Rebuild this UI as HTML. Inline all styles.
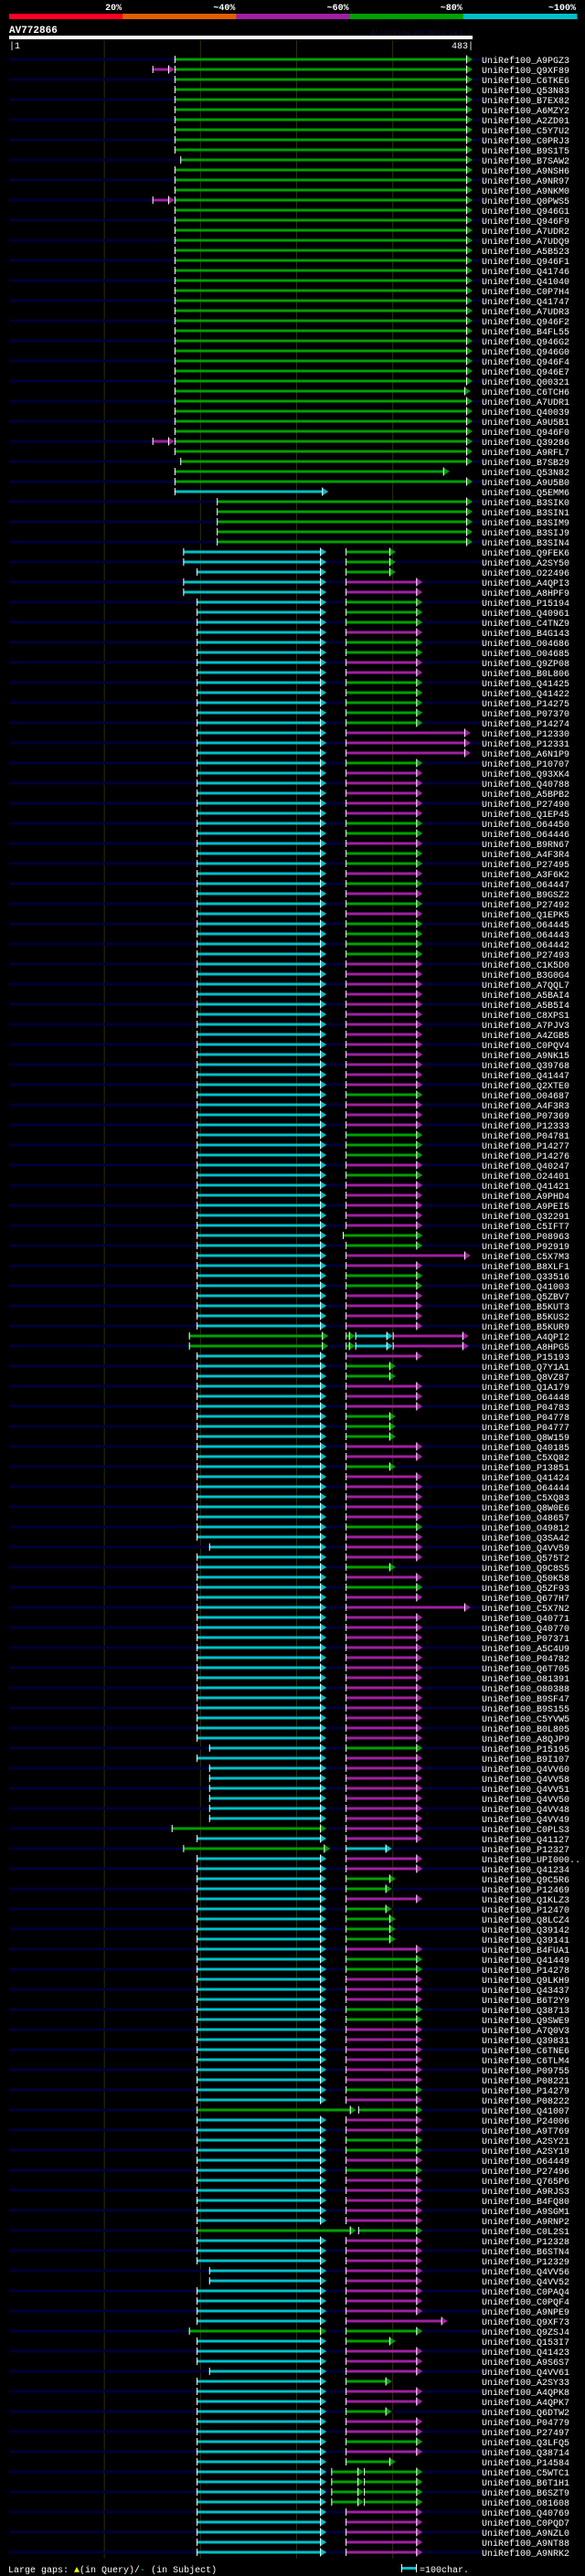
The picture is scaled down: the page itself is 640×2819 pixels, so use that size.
<!DOCTYPE html>
<html><head><meta charset="utf-8">
<style>
html,body{margin:0;padding:0;background:#000;}
body{width:640px;height:2819px;overflow:hidden;}
svg{display:block;}
text{font-family:"Liberation Mono",monospace;}
</style></head>
<body>
<svg id="chart" width="640" height="2819" xmlns="http://www.w3.org/2000/svg">
  <rect x="0" y="0" width="640" height="2819" fill="#000"/>
  <g id="legend"></g>
  <text x="10" y="36" fill="#fff" font-size="11" font-weight="bold">AV772866</text>
  <text x="516" y="38" fill="#0a0a40" font-size="8" text-anchor="end">AlignView.pm Beta rel.7</text>
  <rect x="10" y="39" width="507" height="4" fill="#fff"/>
  <text x="10" y="53" fill="#fff" font-size="10">|1</text>
  <text x="518" y="53" fill="#fff" font-size="10" text-anchor="end">483|</text>
  <g id="grid"></g>
  <g id="rows"></g>
  <text x="9" y="2815" fill="#fff" font-size="10">Large gaps:<tspan fill="#ff0"> ▲</tspan>(in Query)/<tspan fill="#0cc">-</tspan> (in Subject)</text>
  <rect x="439" y="2809" width="17" height="3" fill="#00c0c8"/>
  <rect x="439" y="2806" width="1" height="9" fill="#fff"/>
  <rect x="455" y="2806" width="1" height="9" fill="#fff"/>
  <text x="459" y="2815" fill="#fff" font-size="10">=100char.</text>
</svg>
<script>
const legendLabels=["20%","~40%","~60%","~80%","~100%"];
const legendColors=["#ff0022","#e06000","#a020a0","#00a000","#00c0c8"];
const gridTicks=[100,200,300,400];
const names=["A9PGZ3","Q9XF89","C6TKE6","Q53N83","B7EX82","A6MZY2","A2ZD01","C5Y7U2","C0PRJ3","B9S1T5",
"B7SAW2","A9NSH6","A9NR97","A9NKM0","Q0PWS5","Q946G1","Q946F9","A7UDR2","A7UDQ9","A5B523",
"Q946F1","Q41746","Q41040","C0P7H4","Q41747","A7UDR3","Q946F2","B4FL55","Q946G2","Q946G0",
"Q946F4","Q946E7","Q00321","C6TCH6","A7UDR1","Q40039","A9U5B1","Q946F0","Q39286","A9RFL7",
"B7SB29","Q53N82","A9U5B0","Q5EMM6","B3SIK0","B3SIN1","B3SIM9","B3SIJ9","B3SIN4","Q9FEK6",
"A2SY50","O22496","A4QPI3","A8HPF9","P15194","Q40961","C4TNZ9","B4G143","O04686","O04685",
"Q9ZP08","B0L806","Q41425","Q41422","P14275","P07370","P14274","P12330","P12331","A6N1P9",
"P10707","Q93XK4","Q40788","A5BPB2","P27490","Q1EP45","O64450","O64446","B9RN67","A4F3R4",
"P27495","A3F6K2","O64447","B9GSZ2","P27492","Q1EPK5","O64445","O64443","O64442","P27493",
"C1K5D0","B3G0G4","A7QQL7","A5BAI4","A5B5I4","C8XPS1","A7PJV3","A4ZGB5","C0PQV4","A9NK15",
"Q39768","Q41447","Q2XTE0","O04687","A4F3R3","P07369","P12333","P04781","P14277","P14276",
"Q40247","O24401","Q41421","A9PHD4","A9PEI5","Q32291","C5IFT7","P08963","P92919","C5X7M3",
"B8XLF1","Q33516","Q41003","Q5ZBV7","B5KUT3","B5KUS2","B5KUR9","A4QPI2","A8HPG5","P15193",
"Q7Y1A1","Q8VZ87","Q1A179","O64448","P04783","P04778","P04777","Q8W159","Q40185","C5XQ82",
"P13851","Q41424","O64444","C5XQ83","Q8W0E6","O48657","O49812","Q3SA42","Q4VV59","Q575T2",
"Q9C8S5","Q50K58","Q5ZF93","Q677H7","C5X7N2","Q40771","Q40770","P07371","A5C4U9","P04782",
"Q6T705","O81391","O80388","B9SF47","B9S155","C5YVW5","B0L805","A8QJP9","P15195","B9I107",
"Q4VV60","Q4VV58","Q4VV51","Q4VV50","Q4VV48","Q4VV49","C0PLS3","Q41127","P12327","UPI000..",
"Q41234","Q9C5R6","P12469","Q1KLZ3","P12470","Q8LCZ4","Q39142","Q39141","B4FUA1","Q41449",
"P14278","Q9LKH9","Q43437","B6T2Y9","Q38713","Q9SWE9","A7Q0V3","Q39831","C6TNE6","C6TLM4",
"P09755","P08221","P14279","P08222","Q41007","P24006","A9T769","A2SY21","A2SY19","O64449",
"P27496","Q765P6","A9RJS3","B4FQ80","A9SGM1","A9RNP2","C0L2S1","P12328","B6STN4","P12329",
"Q4VV56","Q4VV52","C0PAQ4","C0PQF4","A9NPE9","Q9XF73","Q9ZSJ4","Q153I7","Q41423","A9S6S7",
"Q4VV61","A2SY33","A4QPK8","A4QPK7","Q6DTW2","P04779","P27497","Q3LFQ5","Q38714","P14584",
"C5WTC1","B6T1H1","B6SZT9","O81608","Q40769","C0PQD7","A9NZL0","A9NT88","A9NRK2"];
const segments=[
"173-483g","150-173m,173-483g","173-483g","173-483g","173-483g","173-483g","173-483g","173-483g","173-483g","173-483g",
"179-483g","173-483g","173-483g","173-483g","150-173m,173-483g","173-483g","173-483g","173-483g","173-483g","173-483g",
"173-483g","173-483g","173-483g","173-483g","173-483g","173-483g","173-483g","173-483g","173-483g","173-483g",
"173-483g","173-483g","173-483g","173-481g","173-483g","173-483g","173-483g","173-483g","150-173m,173-483g","173-483g",
"179-483g","173-459g","173-483g","173-333c","217-483g","217-483g","217-483g","217-483g","217-483g","182-331c,351-403g",
"182-331c,351-403g","196-331c,351-403g","182-331c,351-431m","182-331c,351-431m","196-331c,351-431g","196-331c,351-431g","196-331c,351-431g","196-331c,351-431m","196-331c,351-431g","196-331c,351-431g",
"196-331c,351-431m","196-331c,351-431m","196-331c,351-431g","196-331c,351-431g","196-331c,351-431g","196-331c,351-431g","196-331c,351-431g","196-331c,351-481m","196-331c,351-481m","196-331c,351-481m",
"196-331c,351-431g","196-331c,351-431m","196-331c,351-431m","196-331c,351-431m","196-331c,351-431m","196-331c,351-431m","196-331c,351-431g","196-331c,351-431g","196-331c,351-431m","196-331c,351-431g",
"196-331c,351-431g","196-331c,351-431m","196-331c,351-431g","196-331c,351-431m","196-331c,351-431g","196-331c,351-431m","196-331c,351-431g","196-331c,351-431g","196-331c,351-431g","196-331c,351-431g",
"196-331c,351-431m","196-331c,351-431m","196-331c,351-431m","196-331c,351-431m","196-331c,351-431m","196-331c,351-431m","196-331c,351-431m","196-331c,351-431m","196-331c,351-431m","196-331c,351-431m",
"196-331c,351-431m","196-331c,351-431m","196-331c,351-431m","196-331c,351-431g","196-331c,351-431m","196-331c,351-431m","196-331c,351-431m","196-331c,351-431g","196-331c,351-431g","196-331c,351-431g",
"196-331c,351-431m","196-331c,351-431g","196-331c,351-431m","196-331c,351-431m","196-331c,351-431m","196-331c,351-431m","196-331c,351-431m","196-331c,348-431g","196-331c,351-431g","196-331c,351-481m",
"196-331c,351-431m","196-331c,351-431g","196-331c,351-431g","196-331c,351-431m","196-331c,351-431m","196-331c,351-431m","196-331c,351-431m","188-333g,351-361g,361-400c,400-479m","188-333g,351-361g,361-400c,400-479m","196-331c,351-431m",
"196-331c,351-403g","196-331c,351-403g","196-331c,351-431m","196-331c,351-431m","196-331c,351-431m","196-331c,351-403g","196-331c,351-403g","196-331c,351-403g","196-331c,351-431m","196-331c,351-431m",
"196-331c,351-403g","196-331c,351-431m","196-331c,351-431m","196-331c,351-431m","196-331c,351-431m","196-331c,351-431m","196-331c,351-431g","196-331c,351-431m","209-331c,351-431m","196-331c,351-431m",
"196-331c,351-403g","196-331c,351-431m","196-331c,351-431g","196-331c,351-431m","196-331c,351-481m","196-331c,351-431m","196-331c,351-431m","196-331c,351-431m","196-331c,351-431m","196-331c,351-431m",
"196-331c,351-431m","196-331c,351-431m","196-331c,351-431m","196-331c,351-431m","196-331c,351-431m","196-331c,351-431m","196-331c,351-431m","196-331c,351-431m","209-331c,351-431g","196-331c,351-431m",
"209-331c,351-431m","209-331c,351-431m","209-331c,351-431m","209-331c,351-431m","209-331c,351-431m","209-331c,351-431m","170-331g,351-431m","196-331c,351-431m","182-335g,351-399c","196-331c,351-431m",
"196-331c,351-431m","196-331c,351-403g","196-331c,351-399g","196-331c,351-431m","196-331c,351-399g","196-331c,351-403g","196-331c,351-403g","196-331c,351-403g","196-331c,351-431m","196-331c,351-431g",
"196-331c,351-431g","196-331c,351-431m","196-331c,351-431m","196-331c,351-431m","196-331c,351-431g","196-331c,351-431g","196-331c,351-431m","196-331c,351-431m","196-331c,351-431m","196-331c,351-431m",
"196-331c,351-431m","196-331c,351-431m","196-331c,351-431g","196-331c,351-431m","196-362g,364-431g","196-331c,351-431m","196-331c,351-431m","196-331c,351-431g","196-331c,351-431g","196-331c,351-431m",
"196-331c,351-431g","196-331c,351-431m","196-331c,351-431m","196-331c,351-431m","196-331c,351-431m","196-331c,351-431m","196-362g,364-431g","196-331c,351-431m","196-331c,351-431m","196-331c,351-431m",
"209-331c,351-431m","209-331c,351-431m","196-331c,351-431m","196-331c,351-431m","196-331c,351-431m","196-331c,351-457m","188-331g,351-431g","196-331c,351-403g","196-331c,351-431m","196-331c,351-431m",
"209-331c,351-431m","196-331c,351-399g","196-331c,351-431m","196-331c,351-431m","196-331c,351-399g","196-331c,351-431m","196-331c,351-431m","196-331c,351-431g","196-331c,351-431m","196-331c,351-403g",
"196-331c,336-370g,370-431g","196-331c,336-370g,370-431g","196-331c,336-370g,370-431g","196-331c,336-370g,370-431g","196-331c,351-431m","196-331c,351-431m","196-331c,351-431m","196-331c,351-431m","196-331c,351-431m"];

const NS="http://www.w3.org/2000/svg";
const X0=10,X1=517,R0=1,R1=483;
function xs(r){return X0+(r-R0)*(X1-X0)/(R1-R0);}
function rowY(i){return 65+i*11;}
const colorMap={g:"#00a000",m:"#a020a0",c:"#00c0c8"};
function mk(tag,attrs,parent){const e=document.createElementNS(NS,tag);for(const k in attrs)e.setAttribute(k,attrs[k]);parent.appendChild(e);return e;}

// legend
const lg=document.getElementById('legend');
const legW=(631-10)/legendColors.length;
legendColors.forEach((c,i)=>{
  const r=mk('rect',{x:10+i*legW,y:15,width:legW+0.5,height:6,fill:c},lg);
  
  
  const t=mk('text',{x:10+(i+1)*legW-1,y:11,fill:'#fff','font-size':'10','font-weight':'bold','text-anchor':'end'},lg);
  t.textContent=legendLabels[i];
  
  
});

// grid
const gg=document.getElementById('grid');
gridTicks.forEach(v=>{
  const l=mk('line',{x1:xs(v),x2:xs(v),y1:44,y2:2800,stroke:'#2e2e08','stroke-width':1},gg);
  
  
});

// rows
const rg=document.getElementById('rows');
names.forEach((nm,i)=>{
  const y=rowY(i);
  const g=mk('g',{},rg);
  
  
  if(i%2===0){
    const bg=mk('rect',{x:10,y:y-1.5,width:517,height:3,fill:'#000038'},g);
    
    
  }
  const segs=segments[i].split(',');
  segs.forEach(s=>{
    const m=s.match(/(\d+)-(\d+)([a-z])/);
    const a=+m[1],b=+m[2],col=colorMap[m[3]];
    const xa=xs(a),xb=xs(b);
    const bar=mk('rect',{x:xa,y:y-1.5,width:Math.max(0,xb-7-xa),height:3,fill:col},g);
    
    
    const tri=mk('polygon',{points:(xb-7)+','+(y-4.5)+' '+xb+','+y+' '+(xb-7)+','+(y+4.5),fill:col},g);
    
    
    const bl=mk('rect',{x:xb-7,y:y-4.5,width:1,height:9,fill:'#fff'},g);
    
    
    const st=mk('rect',{x:xa,y:y-4,width:1,height:8,fill:'#fff'},g);
    
    
  });
  const t=mk('text',{x:527,y:y+4,fill:'#fff','font-size':'10'},g);
  t.textContent='UniRef100_'+nm;
  
  
});
</script>
</body></html>
